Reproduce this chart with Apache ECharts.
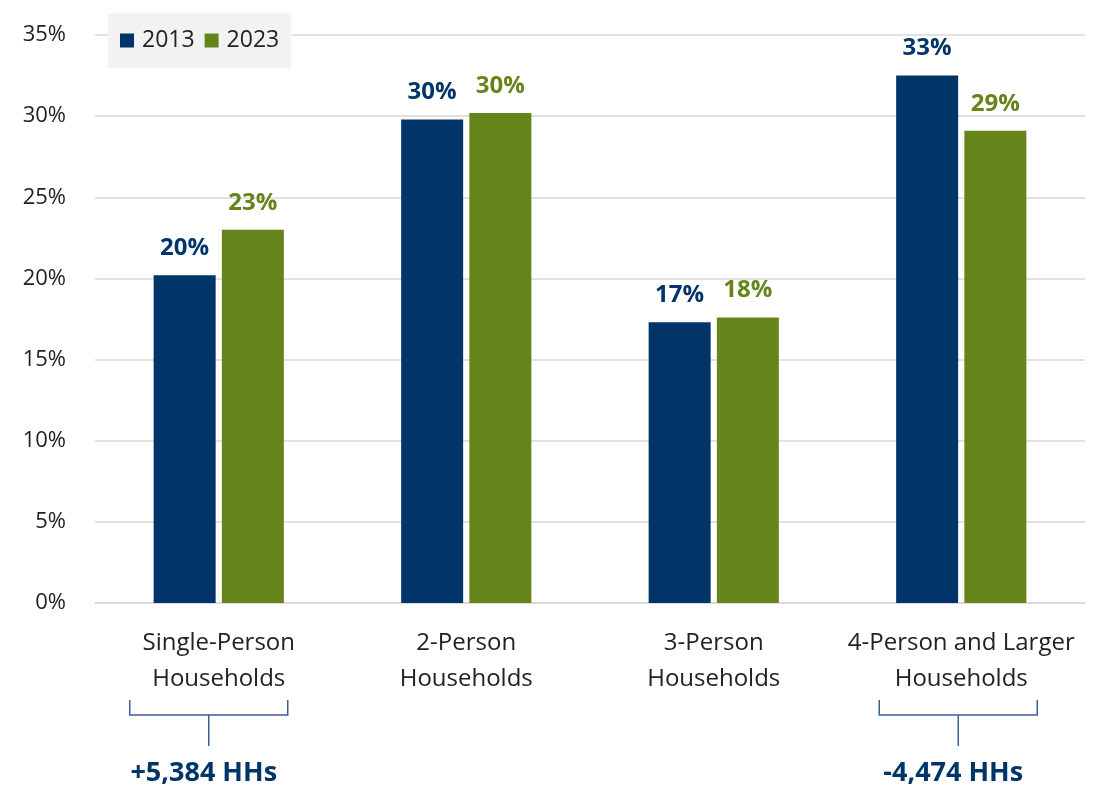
<!DOCTYPE html>
<html>
<head>
<meta charset="utf-8">
<script src="https://cdn.jsdelivr.net/npm/echarts@6/dist/echarts.min.js"></script>
<style>
  html, body { margin: 0; padding: 0; background: #ffffff; }
  #chart { width: 1095px; height: 787px; }
</style>
</head>
<body>
<div id="chart"></div>
<script>
// Household size shares, 2013 vs 2023
const categories = [
  'Single-Person\nHouseholds',
  '2-Person\nHouseholds',
  '3-Person\nHouseholds',
  '4-Person and Larger\nHouseholds'
];
const share2013 = [20.2, 29.8, 17.3, 32.5];
const share2023 = [23.0, 30.2, 17.6, 29.1];
const yTicks = [0, 5, 10, 15, 20, 25, 30, 35];
// Net change in household counts, shown under the first and last groups
const noteCategories = [0, 3];
const noteTexts = ['+5,384 HHs', '-4,474 HHs'];

const NAVY = '#013469';
const GREEN = '#658419';
const FONT = '"Open Sans", "Noto Sans", sans-serif';

const chart = echarts.init(document.getElementById('chart'));

function labelFor(color) {
  return {
    show: true,
    position: 'top',
    distance: 15,
    color: color,
    fontFamily: FONT,
    fontWeight: 'bold',
    fontSize: 24,
    formatter: p => Math.round(p.value) + '%'
  };
}

chart.setOption({
  animation: false,
  textStyle: { fontFamily: FONT },
  grid: { left: 95, right: 10, top: 35, bottom: 184 },
  legend: {
    left: 108,
    top: 13,
    padding: [16, 12, 16, 12],
    backgroundColor: '#f2f2f2',
    itemWidth: 14,
    itemHeight: 14,
    itemGap: 10,
    icon: 'rect',
    textStyle: { fontSize: 23, color: '#222222', fontFamily: FONT, padding: [0, 0, 0, 3] },
    data: ['2013', '2023']
  },
  xAxis: {
    type: 'category',
    data: categories,
    axisLine: { show: true, lineStyle: { color: '#d9d9d9', width: 1.5 } },
    axisTick: { show: false },
    axisLabel: {
      interval: 0,
      color: '#222222',
      fontSize: 24,
      lineHeight: 36,
      margin: 22,
      fontFamily: FONT
    }
  },
  yAxis: {
    type: 'value',
    min: yTicks[0],
    max: yTicks[yTicks.length - 1],
    interval: yTicks[1] - yTicks[0],
    axisLine: { show: false },
    axisTick: { show: false },
    splitLine: { lineStyle: { color: '#d9d9d9', width: 1.5 } },
    axisLabel: {
      color: '#222222',
      fontSize: 22,
      margin: 29,
      fontFamily: FONT,
      formatter: v => v + '%'
    }
  },
  series: [
    {
      name: '2013',
      type: 'bar',
      data: share2013,
      barWidth: 62,
      barGap: '10%',
      itemStyle: { color: NAVY },
      label: labelFor(NAVY)
    },
    {
      name: '2023',
      type: 'bar',
      data: share2023,
      barWidth: 62,
      itemStyle: { color: GREEN },
      label: labelFor(GREEN)
    }
  ]
});

// Brackets and change notes placed under the category labels
function drawNotes() {
  const elements = [];
  const halfSpan = 79;
  const shift = [-10, -3];
  const bracketTop = 700;
  const bracketBase = 715;
  const stemEnd = 746;
  const lineStyle = { stroke: '#3a5f94', lineWidth: 1.5 };
  noteCategories.forEach((cat, i) => {
    const cx = chart.convertToPixel({ xAxisIndex: 0 }, cat) + shift[i];
    elements.push({
      type: 'polyline',
      shape: { points: [[cx - halfSpan, bracketTop], [cx - halfSpan, bracketBase], [cx + halfSpan, bracketBase], [cx + halfSpan, bracketTop]] },
      style: Object.assign({ fill: null }, lineStyle)
    });
    elements.push({
      type: 'line',
      shape: { x1: cx, y1: bracketBase, x2: cx, y2: stemEnd },
      style: lineStyle
    });
    elements.push({
      type: 'text',
      x: cx - 5,
      y: 773,
      style: {
        text: noteTexts[i],
        fill: NAVY,
        font: 'bold 27px ' + FONT,
        textAlign: 'center',
        textVerticalAlign: 'middle'
      }
    });
  });
  chart.setOption({ graphic: elements });
}
drawNotes();
</script>
</body>
</html>
